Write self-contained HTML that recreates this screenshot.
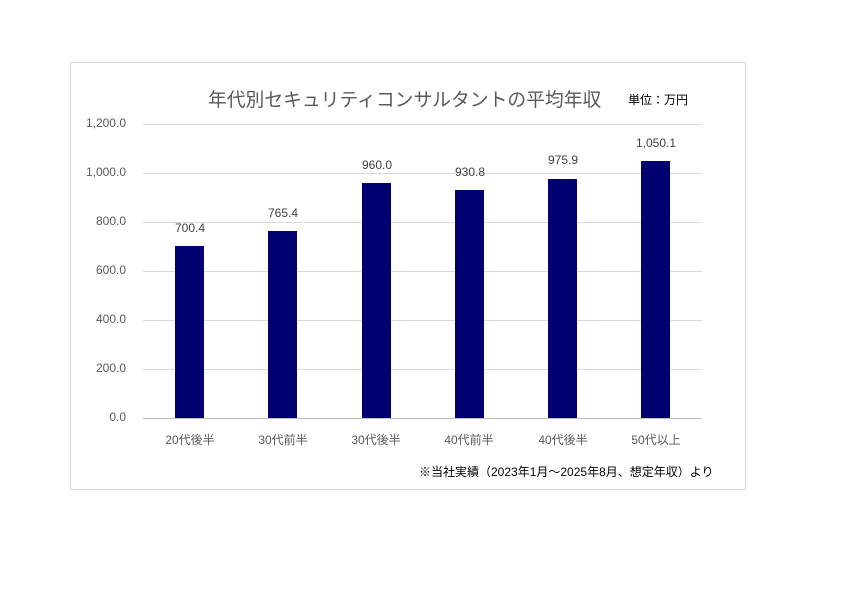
<!DOCTYPE html>
<html><head><meta charset="utf-8"><style>
body{margin:0;background:#fff;width:847px;height:600px;position:relative;overflow:hidden;font-family:"Liberation Sans","Noto Sans CJK JP",sans-serif;}
.frame{position:absolute;left:70px;top:62px;width:674px;height:426px;border:1px solid #d9d9d9;}
.t{position:absolute;white-space:nowrap;color:#595959;}
.grid{position:absolute;left:143px;width:559px;height:1px;background:#d9d9d9;}
.bar{position:absolute;width:29px;background:#000070;}
.yl{position:absolute;width:60px;left:66px;text-align:right;font-size:12px;color:#595959;}
.vl{position:absolute;width:80px;text-align:center;font-size:12px;color:#404040;}
.xl{position:absolute;width:90px;text-align:center;font-size:12px;color:#595959;}
</style></head><body>
<div class="frame"></div>
<div class="t" style="left:208px;top:85px;font-size:18.8px;color:#595959;">年代別セキュリティコンサルタントの平均年収</div>
<div class="t" style="left:628px;top:91px;font-size:12px;color:#000;">単位：万円</div>

<div class="grid" style="top:124px"></div>
<div class="grid" style="top:173px"></div>
<div class="grid" style="top:222px"></div>
<div class="grid" style="top:271px"></div>
<div class="grid" style="top:320px"></div>
<div class="grid" style="top:369px"></div>
<div class="grid" style="top:418px;background:#bfbfbf"></div>

<div class="yl" style="top:116px">1,200.0</div>
<div class="yl" style="top:165px">1,000.0</div>
<div class="yl" style="top:214px">800.0</div>
<div class="yl" style="top:263px">600.0</div>
<div class="yl" style="top:312px">400.0</div>
<div class="yl" style="top:361px">200.0</div>
<div class="yl" style="top:410px">0.0</div>

<div class="bar" style="left:175px;top:246px;height:172px"></div>
<div class="bar" style="left:268px;top:231px;height:187px"></div>
<div class="bar" style="left:362px;top:183px;height:235px"></div>
<div class="bar" style="left:455px;top:190px;height:228px"></div>
<div class="bar" style="left:548px;top:179px;height:239px"></div>
<div class="bar" style="left:641px;top:161px;height:257px"></div>

<div class="vl" style="left:150px;top:221px">700.4</div>
<div class="vl" style="left:243px;top:206px">765.4</div>
<div class="vl" style="left:337px;top:158px">960.0</div>
<div class="vl" style="left:430px;top:165px">930.8</div>
<div class="vl" style="left:523px;top:153px">975.9</div>
<div class="vl" style="left:616px;top:136px">1,050.1</div>

<div class="xl" style="left:145px;top:431px">20代後半</div>
<div class="xl" style="left:238px;top:431px">30代前半</div>
<div class="xl" style="left:331px;top:431px">30代後半</div>
<div class="xl" style="left:424px;top:431px">40代前半</div>
<div class="xl" style="left:518px;top:431px">40代後半</div>
<div class="xl" style="left:611px;top:431px">50代以上</div>

<div class="t" style="left:419px;top:463px;font-size:12px;color:#000;">※当社実績（2023年1月～2025年8月、想定年収）より</div>
</body></html>
